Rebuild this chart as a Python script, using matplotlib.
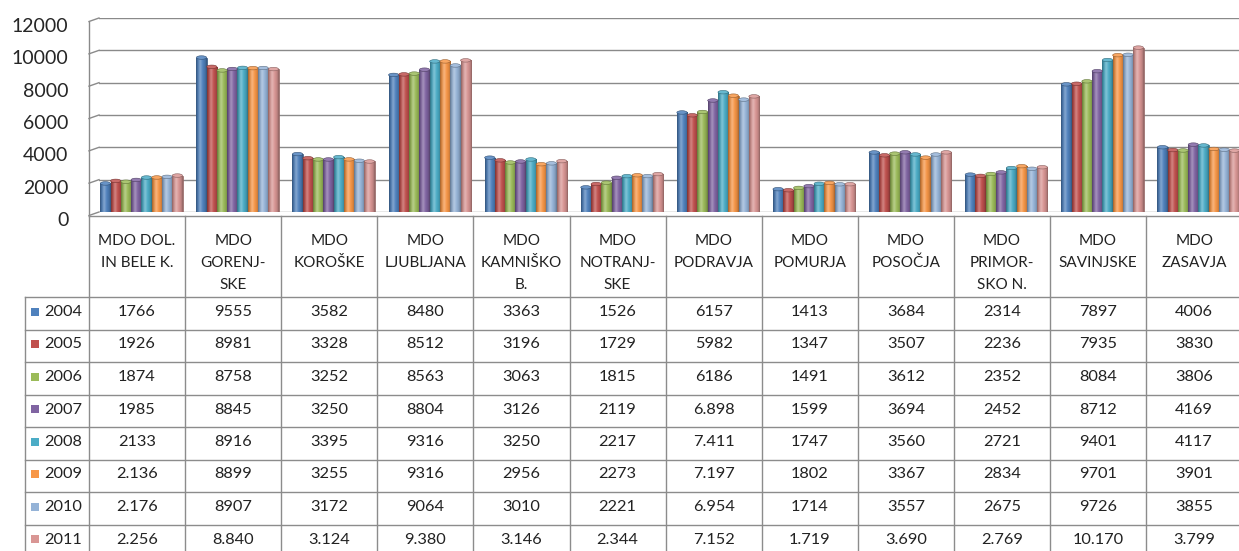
import numpy as np
import matplotlib
matplotlib.use("Agg")
import matplotlib.pyplot as plt
from matplotlib.colors import to_rgb
from matplotlib.transforms import ScaledTranslation
from matplotlib.patches import Rectangle, Ellipse

plt.rcParams['font.family'] = ['Lato', 'DejaVu Sans']

categories = ["MDO DOL.\nIN BELE K.", "MDO\nGORENJ-\nSKE", "MDO\nKOROŠKE", "MDO\nLJUBLJANA",
              "MDO\nKAMNIŠKO\nB.", "MDO\nNOTRANJ-\nSKE", "MDO\nPODRAVJA", "MDO\nPOMURJA",
              "MDO\nPOSOČJA", "MDO\nPRIMOR-\nSKO N.", "MDO\nSAVINJSKE", "MDO\nZASAVJA"]
years = ["2004", "2005", "2006", "2007", "2008", "2009", "2010", "2011"]
colors = ["#4F81BD", "#C0504D", "#9BBB59", "#8064A2", "#4BACC6", "#F79646", "#95B3D7", "#D99694"]

# table cell texts as printed in the chart (dots are thousand separators)
row_2004 = ["1766", "9555", "3582", "8480", "3363", "1526", "6157", "1413", "3684", "2314", "7897", "4006"]
row_2005 = ["1926", "8981", "3328", "8512", "3196", "1729", "5982", "1347", "3507", "2236", "7935", "3830"]
row_2006 = ["1874", "8758", "3252", "8563", "3063", "1815", "6186", "1491", "3612", "2352", "8084", "3806"]
row_2007 = ["1985", "8845", "3250", "8804", "3126", "2119", "6.898", "1599", "3694", "2452", "8712", "4169"]
row_2008 = ["2133", "8916", "3395", "9316", "3250", "2217", "7.411", "1747", "3560", "2721", "9401", "4117"]
row_2009 = ["2.136", "8899", "3255", "9316", "2956", "2273", "7.197", "1802", "3367", "2834", "9701", "3901"]
row_2010 = ["2.176", "8907", "3172", "9064", "3010", "2221", "6.954", "1714", "3557", "2675", "9726", "3855"]
row_2011 = ["2.256", "8.840", "3.124", "9.380", "3.146", "2.344", "7.152", "1.719", "3.690", "2.769", "10.170", "3.799"]
rows = [row_2004, row_2005, row_2006, row_2007, row_2008, row_2009, row_2010, row_2011]
values = [[int(s.replace(".", "")) for s in r] for r in rows]

y_ticks = [0, 2000, 4000, 6000, 8000, 10000, 12000]
y_tick_labels = ["0", "2000", "4000", "6000", "8000", "10000", "12000"]

W, H = 1239, 551
fig = plt.figure(figsize=(W / 100, H / 100), dpi=100)
fig.patch.set_facecolor("white")
grid_col = "#8a8a8a"

# --- overlay in pixel coordinates (table + 3D wall edges) ---
tx = fig.add_axes([0, 0, 1, 1], zorder=0)
tx.set_xlim(0, W)
tx.set_ylim(H, 0)
tx.axis("off")

# --- chart axes (pixel layout) ---
wall_x, ax_left, ax_right, ax_top, ax_bottom = 89, 99, 1239, 18, 212
ax = fig.add_axes([ax_left / W, (H - ax_bottom) / H, (ax_right - ax_left) / W, (ax_bottom - ax_top) / H],
                  zorder=1)
ax.patch.set_alpha(0)
col_w = 96.1
c0 = 89 + col_w / 2
ax.set_xlim((ax_left - c0) / col_w, (ax_right - c0) / col_w)
ax.set_ylim(0, 12000)
for yv in y_ticks:
    ax.axhline(yv, color=grid_col, lw=1.0, zorder=0.5)
for s in ["top", "right", "bottom", "left"]:
    ax.spines[s].set_visible(False)
ax.set_xticks([])
ax.set_yticks(y_ticks, y_tick_labels, fontsize=14, color="#262626")
ax.tick_params(axis="y", length=0, pad=15 + 7)
for lab in ax.get_yticklabels():
    lab.set_transform(lab.get_transform() + ScaledTranslation(0, -7 / 100, fig.dpi_scale_trans))

# left wall: slanted gridline stubs and wall edge
px_per_unit = (ax_bottom - ax_top) / 12000
for yv in y_ticks:
    ypx = ax_bottom - yv * px_per_unit
    tx.plot([wall_x, ax_left], [ypx + 3.5, ypx], color=grid_col, lw=1.0)
tx.plot([wall_x, wall_x], [ax_top + 3.5, 215.5], color=grid_col, lw=1.0)

n = len(years)
bw = 0.107
x = np.arange(len(categories))
t = np.linspace(0, 1, 40)
cap_h = 3.5 / px_per_unit
for j, (yr, col) in enumerate(zip(years, colors)):
    base = np.array(to_rgb(col))
    dark = base * 0.62
    s = np.sin(np.pi * t) ** 0.6
    grad = dark[None, :] * (1 - s[:, None]) + base[None, :] * s[:, None]
    hl = 0.28 * np.exp(-((t - 0.38) / 0.16) ** 2)
    grad = grad * (1 - hl[:, None]) + hl[:, None]
    img = grad[None, :, :]
    bars = ax.bar(x + (j - 3.5) * bw + 0.045, values[j], width=bw, color=col,
                  edgecolor=tuple(dark), linewidth=0.5, zorder=2)
    for b in bars:
        bx, by = b.get_x(), b.get_y()
        bwid, bh = b.get_width(), b.get_height()
        im = ax.imshow(img, extent=[bx, bx + bwid, by, by + bh], aspect="auto",
                       zorder=2.1, interpolation="bilinear")
        im.set_clip_path(b)
        ax.add_patch(Ellipse((bx + bwid / 2, by + bh), bwid, cap_h,
                             facecolor=tuple(base * 0.85 + 0.15), edgecolor=tuple(dark),
                             linewidth=0.4, zorder=2.2))
ax.set_xlim((ax_left - c0) / col_w, (ax_right - c0) / col_w)
ax.set_ylim(0, 12000)

line_col = "#8c8c8c"
txt_col = "#222222"
hdr_top, hdr_bot = 215.5, 297
row_h = 32.5
col_edges = [89 + col_w * k for k in range(len(categories) + 1)]
tx.plot([wall_x, W], [hdr_top, hdr_top], color=line_col, lw=1.0)
for k in range(len(years) + 1):
    yy = hdr_bot + row_h * k
    tx.plot([25, W], [yy, yy], color=line_col, lw=1.0)
for k, xe in enumerate(col_edges):
    tx.plot([xe, xe], [hdr_top, H], color=line_col, lw=1.0)
tx.plot([25, 25], [hdr_bot, H], color=line_col, lw=1.0)

for i, cat in enumerate(categories):
    cx = c0 + col_w * i
    for li, line in enumerate(cat.split("\n")):
        tx.text(cx, 241 + 22 * li, line, ha="center", va="center", fontsize=11, color=txt_col)

for j, (yr, col, r) in enumerate(zip(years, colors, rows)):
    yc = hdr_bot + row_h * j + 15
    tx.add_patch(Rectangle((31, yc - 4.5), 8, 8, facecolor=col, edgecolor="none"))
    tx.text(44, yc, yr, ha="left", va="center", fontsize=11.8, color=txt_col)
    for i, sval in enumerate(r):
        tx.text(c0 + col_w * i, yc, sval, ha="center", va="center", fontsize=11.8, color=txt_col)

fig.savefig("out.png", dpi=100, facecolor="white")
